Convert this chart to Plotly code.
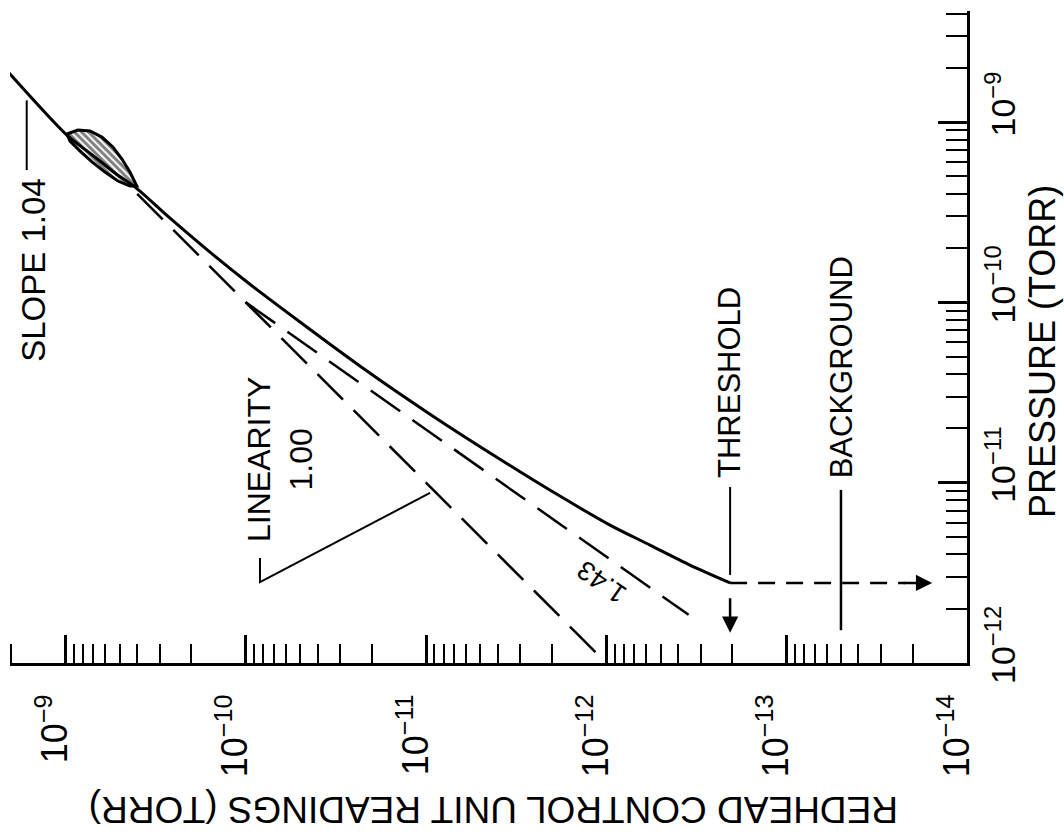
import numpy as np
import plotly.graph_objects as go

# Redhead control unit reading vs. true pressure (torr)
pressure = [1.90e-9, 8.47e-10, 6.92e-10, 6.08e-10, 5.22e-10, 4.37e-10, 2.94e-10,
            1.90e-10, 1.26e-10, 7.78e-11, 4.44e-11, 2.40e-11, 1.35e-11, 8.43e-12,
            5.82e-12, 4.51e-12, 3.49e-12, 2.78e-12]
reading = [2.08e-9, 9.82e-10, 7.60e-10, 6.44e-10, 5.32e-10, 4.12e-10, 2.64e-10,
           1.58e-10, 9.48e-11, 5.00e-11, 2.33e-11, 9.51e-12, 3.89e-12, 1.81e-12,
           9.55e-13, 5.73e-13, 3.44e-13, 2.06e-13]

# spread of readings near the top of the range (hatched band)
band_reading = [9.82e-10, 8.53e-10, 7.31e-10, 6.28e-10, 5.46e-10, 4.86e-10, 4.39e-10, 4.02e-10,
                4.39e-10, 5.12e-10, 6.04e-10, 7.13e-10, 8.32e-10, 9.44e-10, 9.82e-10]
band_pressure = [8.59e-10, 9.04e-10, 8.92e-10, 8.26e-10, 7.28e-10, 6.24e-10, 5.28e-10, 4.42e-10,
                 4.42e-10, 4.71e-10, 5.28e-10, 6.01e-10, 6.92e-10, 7.85e-10, 8.59e-10]

# reference lines: linearity 1.00 and slope 1.43
linear_reading = [4.0e-10, 1.0e-12]
linear_pressure = [4.0e-10, 1.0e-12]
slope143_reading = [1.0e-10, 3.5e-13]
slope143_pressure = [1.0e-10, 1.85e-12]

threshold_reading = 2.06e-13
threshold_pressure = 2.78e-12
background_reading = 5.0e-14

reading_decades = [1e-9, 1e-10, 1e-11, 1e-12, 1e-13, 1e-14]
reading_labels = ["10<sup>−9</sup>", "10<sup>−10</sup>", "10<sup>−11</sup>",
                  "10<sup>−12</sup>", "10<sup>−13</sup>", "10<sup>−14</sup>"]
pressure_decades = [1e-12, 1e-11, 1e-10, 1e-9]
pressure_labels = ["10<sup>−12</sup>", "10<sup>−11</sup>", "10<sup>−10</sup>", "10<sup>−9</sup>"]

FONT = "Liberation Sans, Arial, sans-serif"
INK = "black"


def minor_ticks(decades, lo, hi):
    vals = []
    for d in decades + [min(decades) / 10]:
        for m in range(2, 10):
            v = d * m
            if lo <= v <= hi:
                vals.append(v)
    return vals


x_minor = minor_ticks(reading_decades, 1e-14, 2.05e-9)
y_minor = minor_ticks(pressure_decades, 1e-12, 4.2e-9)

L = np.log10
fig = go.Figure()

# hatched band
fig.add_trace(go.Scatter(
    x=band_reading, y=band_pressure, mode="lines", fill="toself",
    fillcolor="white", line=dict(color=INK, width=3),
    fillpattern=dict(shape="\\", fgcolor=INK, bgcolor="white", size=5, solidity=0.6),
    hoverinfo="skip", showlegend=False))

# dashed reference lines
fig.add_trace(go.Scatter(
    x=linear_reading, y=linear_pressure, mode="lines",
    line=dict(color=INK, width=2.5, dash="36px,15px"), showlegend=False))
fig.add_trace(go.Scatter(
    x=slope143_reading, y=slope143_pressure, mode="lines",
    line=dict(color=INK, width=2.5, dash="36px,15px"), showlegend=False))

# calibration curve
fig.add_trace(go.Scatter(
    x=reading, y=pressure, mode="lines",
    line=dict(color=INK, width=3, shape="spline", smoothing=0.8), showlegend=False))

# threshold: dashed run to the pressure axis
fig.add_trace(go.Scatter(
    x=[threshold_reading, 2.2e-14], y=[threshold_pressure, threshold_pressure],
    mode="lines", line=dict(color=INK, width=2.5, dash="17px,11px"), showlegend=False))

# label stems and leaders
fig.add_trace(go.Scatter(
    x=[threshold_reading, threshold_reading], y=[9.46e-12, 3.08e-12],
    mode="lines", line=dict(color=INK, width=2), showlegend=False))
fig.add_trace(go.Scatter(
    x=[background_reading, background_reading], y=[9.12e-12, 1.52e-12],
    mode="lines", line=dict(color=INK, width=2.5), showlegend=False))
fig.add_trace(go.Scatter(
    x=[1.64e-9, 1.64e-9], y=[1.32e-9, 5.42e-10],
    mode="lines", line=dict(color=INK, width=2), showlegend=False))
fig.add_trace(go.Scatter(
    x=[8.34e-11, 8.34e-11, 9.51e-12], y=[3.82e-12, 2.81e-12, 8.77e-12],
    mode="lines", line=dict(color=INK, width=2), showlegend=False))

ann = []
# arrows
ann.append(dict(x=L(threshold_reading), y=L(1.47e-12), xref="x", yref="y",
                ax=0, ay=-36, showarrow=True, arrowhead=2, arrowsize=1.3,
                arrowwidth=2.5, arrowcolor=INK, text=""))
ann.append(dict(x=L(1.56e-14), y=L(threshold_pressure), xref="x", yref="y",
                ax=-30, ay=0, showarrow=True, arrowhead=2, arrowsize=1.3,
                arrowwidth=2.5, arrowcolor=INK, text=""))

# text labels
ann.append(dict(x=L(threshold_reading), y=L(1.03e-11), xref="x", yref="y",
                text="THRESHOLD", textangle=-90, showarrow=False,
                xanchor="center", yanchor="bottom", font=dict(size=31, family=FONT, color=INK)))
ann.append(dict(x=L(background_reading), y=L(1.03e-11), xref="x", yref="y",
                text="BACKGROUND", textangle=-90, showarrow=False,
                xanchor="center", yanchor="bottom", font=dict(size=31, family=FONT, color=INK)))
ann.append(dict(x=L(1.51e-9), y=L(4.95e-10), xref="x", yref="y",
                text="SLOPE 1.04", textangle=-90, showarrow=False,
                xanchor="center", yanchor="top", font=dict(size=33, family=FONT, color=INK)))
ann.append(dict(x=-10.190, y=-10.874, xref="x", yref="y",
                text="LINEARITY<br>1.00", textangle=-90, showarrow=False, align="center",
                xanchor="center", yanchor="middle", font=dict(size=32, family=FONT, color=INK)))
ann.append(dict(x=-11.976, y=-11.551, xref="x", yref="y",
                text="1.43", textangle=-145, showarrow=False,
                xanchor="center", yanchor="middle", font=dict(size=27, family=FONT, color=INK)))

# axis titles
ann.append(dict(x=1.0795, y=0.477, xref="paper", yref="paper",
                text="PRESSURE (TORR)", textangle=-90, showarrow=False,
                xanchor="center", yanchor="middle", font=dict(size=36, family=FONT, color=INK)))
ann.append(dict(x=0.5047, y=-0.2255, xref="paper", yref="paper",
                text="REDHEAD CONTROL UNIT READINGS (TORR)", textangle=180, showarrow=False,
                xanchor="center", yanchor="middle", font=dict(size=37, family=FONT, color=INK)))

fig.update_layout(
    width=1064, height=839,
    margin=dict(l=10, r=97, t=11, b=176),
    paper_bgcolor="white", plot_bgcolor="white",
    font=dict(family=FONT, color=INK),
    showlegend=False,
    annotations=ann,
    xaxis=dict(
        type="log", range=[L(2.03e-9), -14.0],
        showline=True, linecolor=INK, linewidth=3,
        ticks="inside", ticklen=28, tickwidth=2.5, tickcolor=INK,
        tickmode="array", tickvals=reading_decades, ticktext=reading_labels,
        tickangle=-90, tickfont=dict(size=36, family=FONT, color=INK),
        ticklabelstandoff=14, ticklabelshift=10,
        showgrid=False, zeroline=False,
        minor=dict(tickmode="array", tickvals=x_minor, ticks="inside", ticklen=19,
                   tickwidth=2, tickcolor=INK, showgrid=False),
    ),
    yaxis=dict(
        type="log", range=[-12.0, -8.384], side="right",
        showline=True, linecolor=INK, linewidth=3,
        ticks="inside", ticklen=29, tickwidth=2.5, tickcolor=INK,
        tickmode="array", tickvals=pressure_decades, ticktext=pressure_labels,
        tickangle=-90, tickfont=dict(size=34, family=FONT, color=INK),
        ticklabelstandoff=4, ticklabelshift=-13,
        showgrid=False, zeroline=False,
        minor=dict(tickmode="array", tickvals=y_minor, ticks="inside", ticklen=21,
                   tickwidth=2, tickcolor=INK, showgrid=False),
    ),
)

fig.write_html("out.html")
